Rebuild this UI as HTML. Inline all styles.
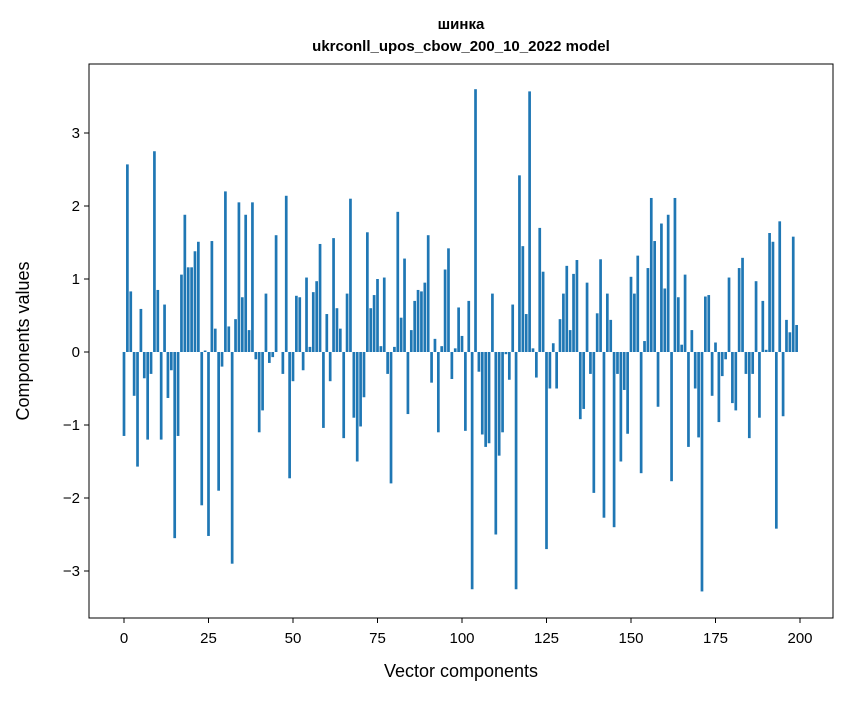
<!DOCTYPE html>
<html><head><meta charset="utf-8"><style>
body{margin:0;background:#fff;}
svg text{font-family:"Liberation Sans","DejaVu Sans",sans-serif;fill:#000;}
</style></head><body>
<svg id="chart" width="847" height="696" viewBox="0 0 847 696" xmlns="http://www.w3.org/2000/svg">
<rect width="847" height="696" fill="#fff"/>
<text x="461" y="29" text-anchor="middle" font-size="15" font-weight="bold">шинка</text>
<text x="461" y="51" text-anchor="middle" font-size="15" font-weight="bold">ukrconll_upos_cbow_200_10_2022 model</text>
<g id="bars"></g>
<rect x="89" y="64" width="744" height="554" fill="none" stroke="#000" stroke-width="1"/>
<g id="axes"></g>
<text x="461" y="677" text-anchor="middle" font-size="18">Vector components</text>
<text transform="translate(29,341) rotate(-90)" text-anchor="middle" font-size="18">Components values</text>
</svg>
<script>
const values = [-1.15,2.57,0.83,-0.6,-1.57,0.59,-0.36,-1.2,-0.3,2.75,0.85,-1.2,0.65,-0.63,-0.25,-2.55,-1.15,1.06,1.88,1.16,1.16,1.38,1.51,-2.1,0.02,-2.52,1.52,0.32,-1.9,-0.2,2.2,0.35,-2.9,0.45,2.05,0.75,1.88,0.3,2.05,-0.1,-1.1,-0.8,0.8,-0.15,-0.07,1.6,0.0,-0.3,2.14,-1.73,-0.4,0.77,0.75,-0.25,1.02,0.07,0.82,0.97,1.48,-1.04,0.52,-0.4,1.56,0.6,0.32,-1.18,0.8,2.1,-0.9,-1.5,-1.02,-0.62,1.64,0.6,0.78,1.0,0.08,1.02,-0.3,-1.8,0.07,1.92,0.47,1.28,-0.85,0.3,0.7,0.85,0.83,0.95,1.6,-0.42,0.18,-1.1,0.08,1.13,1.42,-0.37,0.05,0.61,0.22,-1.08,0.7,-3.25,3.6,-0.27,-1.13,-1.3,-1.25,0.8,-2.5,-1.42,-1.1,-0.03,-0.38,0.65,-3.25,2.42,1.45,0.52,3.57,0.05,-0.35,1.7,1.1,-2.7,-0.5,0.12,-0.5,0.45,0.8,1.18,0.3,1.07,1.26,-0.92,-0.78,0.95,-0.3,-1.93,0.53,1.27,-2.27,0.8,0.44,-2.4,-0.3,-1.5,-0.52,-1.12,1.03,0.8,1.32,-1.66,0.15,1.15,2.11,1.52,-0.75,1.76,0.87,1.88,-1.77,2.11,0.75,0.1,1.06,-1.3,0.3,-0.5,-1.17,-3.28,0.76,0.78,-0.6,0.13,-0.96,-0.33,-0.1,1.02,-0.7,-0.8,1.15,1.29,-0.3,-1.18,-0.3,0.97,-0.9,0.7,0.03,1.63,1.51,-2.42,1.79,-0.88,0.44,0.27,1.58,0.37];
const xTicks = [0,25,50,75,100,125,150,175,200];
const yTicks = [-3,-2,-1,0,1,2,3];
const yTickLabels = ["−3","−2","−1","0","1","2","3"];
const NS="http://www.w3.org/2000/svg";
const xs = v => 124 + v*3.38;
const ys = v => 352 - v*73;
const bars=document.getElementById('bars');
values.forEach((v,i)=>{
  const r=document.createElementNS(NS,'rect');
  
  
  const x0=xs(i-0.4), x1=xs(i+0.4);
  r.setAttribute('x',x0); r.setAttribute('width',x1-x0);
  r.setAttribute('y',Math.min(ys(v),ys(0))); r.setAttribute('height',Math.abs(ys(v)-ys(0)));
  r.setAttribute('fill','#1f77b4');
  bars.appendChild(r);
});
const axes=document.getElementById('axes');
xTicks.forEach(t=>{
  const l=document.createElementNS(NS,'line');
  
  
  l.setAttribute('x1',xs(t));l.setAttribute('x2',xs(t));l.setAttribute('y1',618);l.setAttribute('y2',623);l.setAttribute('stroke','#000');
  axes.appendChild(l);
  const tx=document.createElementNS(NS,'text');
  
  
  tx.setAttribute('x',xs(t));tx.setAttribute('y',643);tx.setAttribute('text-anchor','middle');tx.setAttribute('font-size','15');
  tx.textContent=t; axes.appendChild(tx);
});
yTicks.forEach((t,i)=>{
  const l=document.createElementNS(NS,'line');
  
  
  l.setAttribute('x1',84);l.setAttribute('x2',89);l.setAttribute('y1',ys(t));l.setAttribute('y2',ys(t));l.setAttribute('stroke','#000');
  axes.appendChild(l);
  const tx=document.createElementNS(NS,'text');
  
  
  tx.setAttribute('x',80);tx.setAttribute('y',ys(t)+5);tx.setAttribute('text-anchor','end');tx.setAttribute('font-size','15');
  tx.textContent=yTickLabels[i]; axes.appendChild(tx);
});
</script>
</body></html>
